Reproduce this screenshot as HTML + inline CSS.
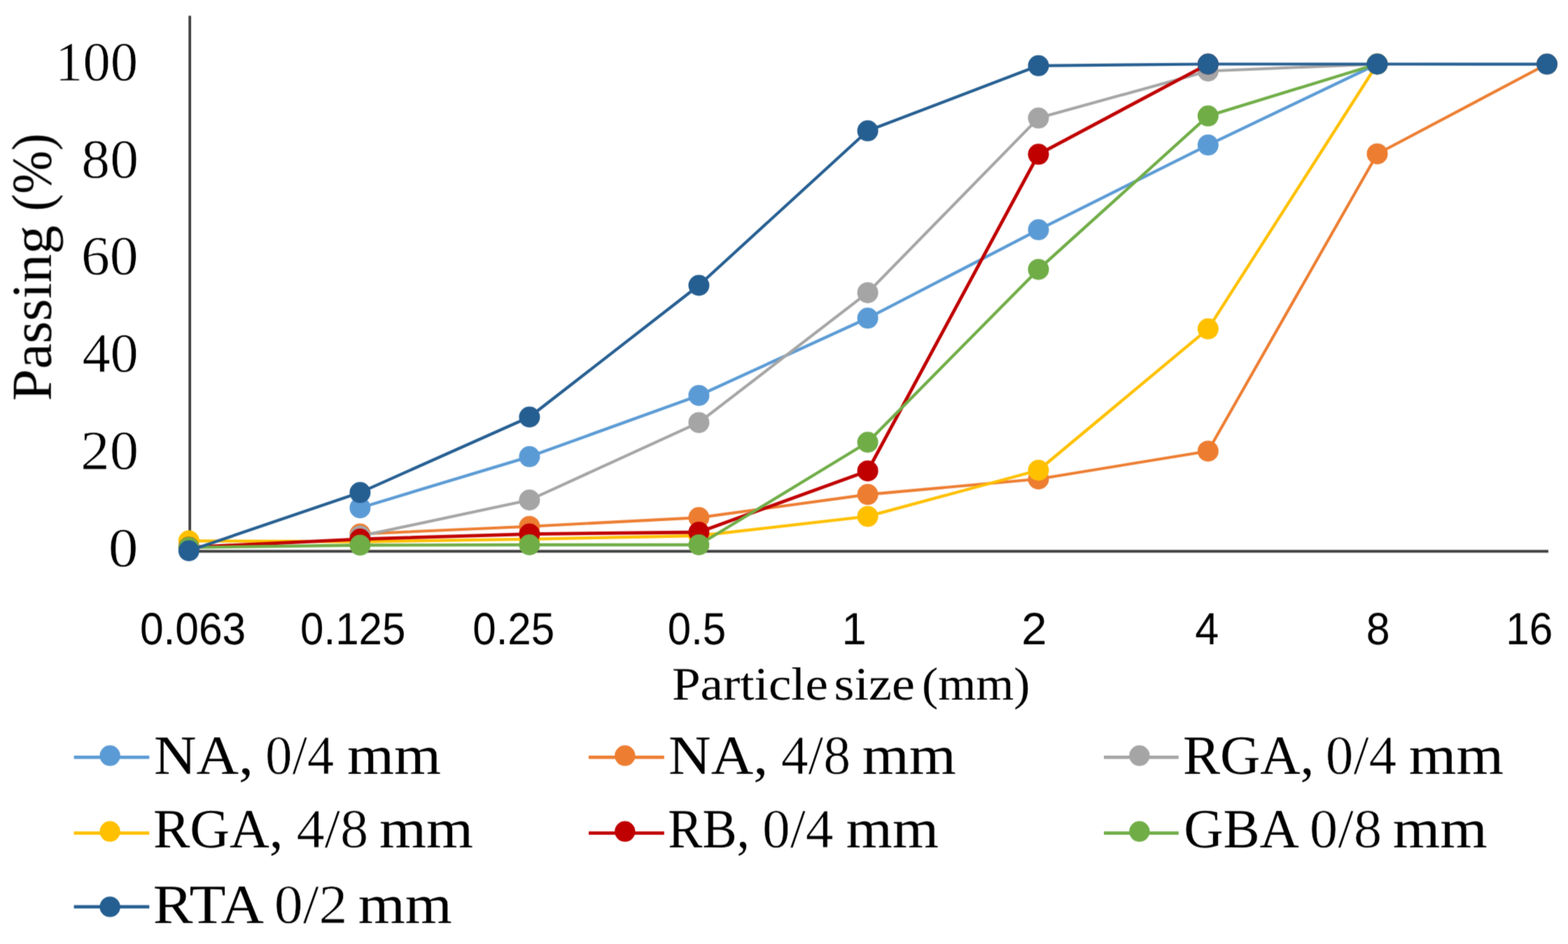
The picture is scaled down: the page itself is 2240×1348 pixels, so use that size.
<!DOCTYPE html>
<html lang="en">
<head>
<meta charset="utf-8">
<title>Particle size distribution of aggregates</title>
<style>
html,body{margin:0;padding:0;background:#fff;}
body{width:2240px;height:1348px;overflow:hidden;}
svg{display:block;}
text{fill:#000000;white-space:pre;text-rendering:geometricPrecision;}
.serif{font-family:"Liberation Serif","DejaVu Serif",serif;}
.sans{font-family:"Liberation Sans","DejaVu Sans",sans-serif;}
.thin{stroke:#fff;stroke-width:0.7px;stroke-linejoin:round;}
</style>
</head>
<body>
<svg width="2240" height="1348" viewBox="0 0 2240 1348" role="img" aria-label="Particle size distribution curves: passing (%) versus particle size (mm)">
<rect width="2240" height="1348" fill="#ffffff"/>
<defs><filter id="soft" filterUnits="userSpaceOnUse" x="0" y="0" width="2240" height="1348" color-interpolation-filters="sRGB"><feConvolveMatrix order="3" kernelMatrix="1 6 1 3 18 3 1 6 1" divisor="40" edgeMode="duplicate" preserveAlpha="false"/></filter></defs>
<g filter="url(#soft)">
<g stroke="#404040" stroke-width="3.9" fill="none">
<line x1="271.15" y1="22.4" x2="271.15" y2="789.0" stroke-width="3.8"/>
<line x1="269.7" y1="787.3" x2="2211.9" y2="787.3"/>
</g>
<g>
<polyline fill="none" stroke="#5B9BD5" stroke-width="4.3" stroke-linejoin="round" stroke-linecap="round" points="514.4,725.2 756.4,652.1 998.4,564.7 1239.6,454.3 1483.5,328.1 1725.8,207.1 1967.5,91.5"/>
<circle cx="514.4" cy="725.2" r="15.0" fill="#5B9BD5"/>
<circle cx="756.4" cy="652.1" r="15.0" fill="#5B9BD5"/>
<circle cx="998.4" cy="564.7" r="15.0" fill="#5B9BD5"/>
<circle cx="1239.6" cy="454.3" r="15.0" fill="#5B9BD5"/>
<circle cx="1483.5" cy="328.1" r="15.0" fill="#5B9BD5"/>
<circle cx="1725.8" cy="207.1" r="15.0" fill="#5B9BD5"/>
<circle cx="1967.5" cy="91.5" r="15.0" fill="#5B9BD5"/>
</g>
<g>
<polyline fill="none" stroke="#ED7D31" stroke-width="4.1" stroke-linejoin="round" stroke-linecap="round" points="514.4,762.5 756.4,751.7 998.4,739.1 1239.6,706.1 1483.5,684 1725.8,644.2 1967.5,219.7 2210,91.5"/>
<circle cx="514.4" cy="762.5" r="15.0" fill="#ED7D31"/>
<circle cx="756.4" cy="751.7" r="15.0" fill="#ED7D31"/>
<circle cx="998.4" cy="739.1" r="15.0" fill="#ED7D31"/>
<circle cx="1239.6" cy="706.1" r="15.0" fill="#ED7D31"/>
<circle cx="1483.5" cy="684" r="15.0" fill="#ED7D31"/>
<circle cx="1725.8" cy="644.2" r="15.0" fill="#ED7D31"/>
<circle cx="1967.5" cy="219.7" r="15.0" fill="#ED7D31"/>
<circle cx="2210" cy="91.5" r="15.0" fill="#ED7D31"/>
</g>
<g>
<polyline fill="none" stroke="#A5A5A5" stroke-width="4.1" stroke-linejoin="round" stroke-linecap="round" points="514.4,765.6 756.4,714 998.4,603.4 1239.6,417.9 1483.5,168.6 1725.8,101.5 1967.5,91.5"/>
<circle cx="514.4" cy="765.6" r="15.0" fill="#A5A5A5"/>
<circle cx="756.4" cy="714" r="15.0" fill="#A5A5A5"/>
<circle cx="998.4" cy="603.4" r="15.0" fill="#A5A5A5"/>
<circle cx="1239.6" cy="417.9" r="15.0" fill="#A5A5A5"/>
<circle cx="1483.5" cy="168.6" r="15.0" fill="#A5A5A5"/>
<circle cx="1725.8" cy="101.5" r="15.0" fill="#A5A5A5"/>
<circle cx="1967.5" cy="91.5" r="15.0" fill="#A5A5A5"/>
</g>
<g>
<polyline fill="none" stroke="#FFC000" stroke-width="4.3" stroke-linejoin="round" stroke-linecap="round" points="269.8,772.3 514.4,773.5 756.4,769.8 998.4,765 1239.6,737.4 1483.5,671.5 1725.8,469.6 1967.5,91.5"/>
<circle cx="269.8" cy="772.3" r="15.0" fill="#FFC000"/>
<circle cx="514.4" cy="773.5" r="15.0" fill="#FFC000"/>
<circle cx="756.4" cy="769.8" r="15.0" fill="#FFC000"/>
<circle cx="998.4" cy="765" r="15.0" fill="#FFC000"/>
<circle cx="1239.6" cy="737.4" r="15.0" fill="#FFC000"/>
<circle cx="1483.5" cy="671.5" r="15.0" fill="#FFC000"/>
<circle cx="1725.8" cy="469.6" r="15.0" fill="#FFC000"/>
<circle cx="1967.5" cy="91.5" r="15.0" fill="#FFC000"/>
</g>
<g>
<polyline fill="none" stroke="#C00000" stroke-width="4.8" stroke-linejoin="round" stroke-linecap="round" points="269.8,781.6 514.4,769.8 756.4,762.6 998.4,760 1239.6,672.4 1483.5,220.3 1725.8,91.5"/>
<circle cx="269.8" cy="781.6" r="15.0" fill="#C00000"/>
<circle cx="514.4" cy="769.8" r="15.0" fill="#C00000"/>
<circle cx="756.4" cy="762.6" r="15.0" fill="#C00000"/>
<circle cx="998.4" cy="760" r="15.0" fill="#C00000"/>
<circle cx="1239.6" cy="672.4" r="15.0" fill="#C00000"/>
<circle cx="1483.5" cy="220.3" r="15.0" fill="#C00000"/>
<circle cx="1725.8" cy="91.5" r="15.0" fill="#C00000"/>
</g>
<g>
<polyline fill="none" stroke="#70AD47" stroke-width="4.3" stroke-linejoin="round" stroke-linecap="round" points="269.8,781.8 514.4,778.5 756.4,778 998.4,778 1239.6,631.5 1483.5,384.7 1725.8,165.6 1967.5,91.5"/>
<circle cx="269.8" cy="781.8" r="15.0" fill="#70AD47"/>
<circle cx="514.4" cy="778.5" r="15.0" fill="#70AD47"/>
<circle cx="756.4" cy="778" r="15.0" fill="#70AD47"/>
<circle cx="998.4" cy="778" r="15.0" fill="#70AD47"/>
<circle cx="1239.6" cy="631.5" r="15.0" fill="#70AD47"/>
<circle cx="1483.5" cy="384.7" r="15.0" fill="#70AD47"/>
<circle cx="1725.8" cy="165.6" r="15.0" fill="#70AD47"/>
<circle cx="1967.5" cy="91.5" r="15.0" fill="#70AD47"/>
</g>
<g>
<polyline fill="none" stroke="#255E91" stroke-width="4.2" stroke-linejoin="round" stroke-linecap="round" points="269.8,786.5 514.4,703.3 756.4,595.5 998.4,407.5 1239.6,186.8 1483.5,93.8 1725.8,91.5 1967.5,91.5 2210,91.6"/>
<circle cx="269.8" cy="786.5" r="15.0" fill="#255E91"/>
<circle cx="514.4" cy="703.3" r="15.0" fill="#255E91"/>
<circle cx="756.4" cy="595.5" r="15.0" fill="#255E91"/>
<circle cx="998.4" cy="407.5" r="15.0" fill="#255E91"/>
<circle cx="1239.6" cy="186.8" r="15.0" fill="#255E91"/>
<circle cx="1483.5" cy="93.8" r="15.0" fill="#255E91"/>
<circle cx="1725.8" cy="91.5" r="15.0" fill="#255E91"/>
<circle cx="1967.5" cy="91.5" r="15.0" fill="#255E91"/>
<circle cx="2210" cy="91.6" r="15.0" fill="#255E91"/>
</g>
<g>
<line x1="105.6" y1="1081.4" x2="213.3" y2="1081.4" stroke="#5B9BD5" stroke-width="4.8"/>
<circle cx="157.1" cy="1079.05" r="14.7" fill="#5B9BD5"/>
<line x1="841.0" y1="1081.4" x2="948.8" y2="1081.4" stroke="#ED7D31" stroke-width="4.8"/>
<circle cx="892.8" cy="1079.05" r="14.7" fill="#ED7D31"/>
<line x1="1577.0" y1="1081.4" x2="1683.8" y2="1081.4" stroke="#A5A5A5" stroke-width="4.8"/>
<circle cx="1627.8" cy="1079.05" r="14.7" fill="#A5A5A5"/>
<line x1="105.6" y1="1189.55" x2="213.3" y2="1189.55" stroke="#FFC000" stroke-width="4.8"/>
<circle cx="157.1" cy="1187.3" r="14.7" fill="#FFC000"/>
<line x1="841.0" y1="1189.55" x2="948.8" y2="1189.55" stroke="#C00000" stroke-width="4.8"/>
<circle cx="892.8" cy="1187.3" r="14.7" fill="#C00000"/>
<line x1="1577.0" y1="1189.55" x2="1683.8" y2="1189.55" stroke="#70AD47" stroke-width="4.8"/>
<circle cx="1627.8" cy="1187.3" r="14.7" fill="#70AD47"/>
<line x1="105.6" y1="1294.9" x2="213.3" y2="1294.9" stroke="#255E91" stroke-width="4.8"/>
<circle cx="157.1" cy="1294.9" r="14.7" fill="#255E91"/>
</g>
<text class="serif" font-size="79.4" y="115"><tspan class="thin" x="79.09" textLength="117.95" lengthAdjust="spacingAndGlyphs">100</tspan></text>
<text class="serif" font-size="79.4" y="254"><tspan class="thin" x="116.39" textLength="81.57" lengthAdjust="spacingAndGlyphs">80</tspan></text>
<text class="serif" font-size="79.4" y="392"><tspan class="thin" x="116.04" textLength="81.59" lengthAdjust="spacingAndGlyphs">60</tspan></text>
<text class="serif" font-size="79.4" y="531"><tspan class="thin" x="117.41" textLength="80.26" lengthAdjust="spacingAndGlyphs">40</tspan></text>
<text class="serif" font-size="79.4" y="670"><tspan class="thin" x="115.29" textLength="82.71" lengthAdjust="spacingAndGlyphs">20</tspan></text>
<text class="serif" font-size="79.4" y="809"><tspan class="thin" x="154.8" textLength="42.68" lengthAdjust="spacingAndGlyphs">0</tspan></text>
<text class="sans" font-size="64.4" y="920"><tspan x="199.9" textLength="151.33" lengthAdjust="spacingAndGlyphs">0.063</tspan></text>
<text class="sans" font-size="64.4" y="920"><tspan x="429.11" textLength="150.19" lengthAdjust="spacingAndGlyphs">0.125</tspan></text>
<text class="sans" font-size="64.4" y="920"><tspan x="675.23" textLength="116.99" lengthAdjust="spacingAndGlyphs">0.25</tspan></text>
<text class="sans" font-size="64.4" y="920"><tspan x="953.8" textLength="83.41" lengthAdjust="spacingAndGlyphs">0.5</tspan></text>
<text class="sans" font-size="64.4" y="920"><tspan x="1202.42" textLength="35.28" lengthAdjust="spacingAndGlyphs">1</tspan></text>
<text class="sans" font-size="64.4" y="920"><tspan x="1459.38" textLength="36.25" lengthAdjust="spacingAndGlyphs">2</tspan></text>
<text class="sans" font-size="64.4" y="920"><tspan x="1707.25" textLength="33.91" lengthAdjust="spacingAndGlyphs">4</tspan></text>
<text class="sans" font-size="64.4" y="920"><tspan x="1951.76" textLength="33.81" lengthAdjust="spacingAndGlyphs">8</tspan></text>
<text class="sans" font-size="64.4" y="920"><tspan x="2151.28" textLength="66.91" lengthAdjust="spacingAndGlyphs">16</tspan></text>
<text class="serif" font-size="66.4" y="999"><tspan x="959.9" textLength="223.16" lengthAdjust="spacingAndGlyphs">Particle</tspan> <tspan x="1191.59" textLength="115.45" lengthAdjust="spacingAndGlyphs">size</tspan> <tspan x="1317.13" textLength="154.38" lengthAdjust="spacingAndGlyphs">(mm)</tspan></text>
<text class="serif" font-size="81.0" transform="translate(72.7,570.1) rotate(-90)" y="0"><tspan x="-2.42" textLength="250.69" lengthAdjust="spacingAndGlyphs">Passing</tspan> <tspan x="268.5" textLength="111.09" lengthAdjust="spacingAndGlyphs">(%)</tspan></text>
<text class="serif" font-size="78.9" y="1105"><tspan x="219.93" textLength="141.95" lengthAdjust="spacingAndGlyphs">NA,</tspan> <tspan class="thin" x="379.09" textLength="98.22" lengthAdjust="spacingAndGlyphs">0/4</tspan> <tspan x="496.1" textLength="133.95" lengthAdjust="spacingAndGlyphs">mm</tspan></text>
<text class="serif" font-size="78.9" y="1105"><tspan x="955.1" textLength="142.08" lengthAdjust="spacingAndGlyphs">NA,</tspan> <tspan class="thin" x="1115.63" textLength="99.46" lengthAdjust="spacingAndGlyphs">4/8</tspan> <tspan x="1231.77" textLength="134.05" lengthAdjust="spacingAndGlyphs">mm</tspan></text>
<text class="serif" font-size="78.9" y="1105"><tspan x="1689.93" textLength="187.54" lengthAdjust="spacingAndGlyphs">RGA,</tspan> <tspan class="thin" x="1893.85" textLength="101.28" lengthAdjust="spacingAndGlyphs">0/4</tspan> <tspan x="2012.86" textLength="135.07" lengthAdjust="spacingAndGlyphs">mm</tspan></text>
<text class="serif" font-size="78.9" y="1210"><tspan x="218.96" textLength="185.55" lengthAdjust="spacingAndGlyphs">RGA,</tspan> <tspan class="thin" x="423.41" textLength="102.75" lengthAdjust="spacingAndGlyphs">4/8</tspan> <tspan x="541.92" textLength="133.97" lengthAdjust="spacingAndGlyphs">mm</tspan></text>
<text class="serif" font-size="78.9" y="1210"><tspan x="954.32" textLength="116.72" lengthAdjust="spacingAndGlyphs">RB,</tspan> <tspan class="thin" x="1088.97" textLength="101.64" lengthAdjust="spacingAndGlyphs">0/4</tspan> <tspan x="1208.88" textLength="132.01" lengthAdjust="spacingAndGlyphs">mm</tspan></text>
<text class="serif" font-size="78.9" y="1210"><tspan x="1691.19" textLength="160.49" lengthAdjust="spacingAndGlyphs">GBA</tspan> <tspan class="thin" x="1870.72" textLength="103.41" lengthAdjust="spacingAndGlyphs">0/8</tspan> <tspan x="1989.66" textLength="134.98" lengthAdjust="spacingAndGlyphs">mm</tspan></text>
<text class="serif" font-size="78.9" y="1318"><tspan x="218.81" textLength="153.49" lengthAdjust="spacingAndGlyphs">RTA</tspan> <tspan class="thin" x="391.85" textLength="104.52" lengthAdjust="spacingAndGlyphs">0/2</tspan> <tspan x="511.77" textLength="134.05" lengthAdjust="spacingAndGlyphs">mm</tspan></text>
</g>
</svg>
</body>
</html>
